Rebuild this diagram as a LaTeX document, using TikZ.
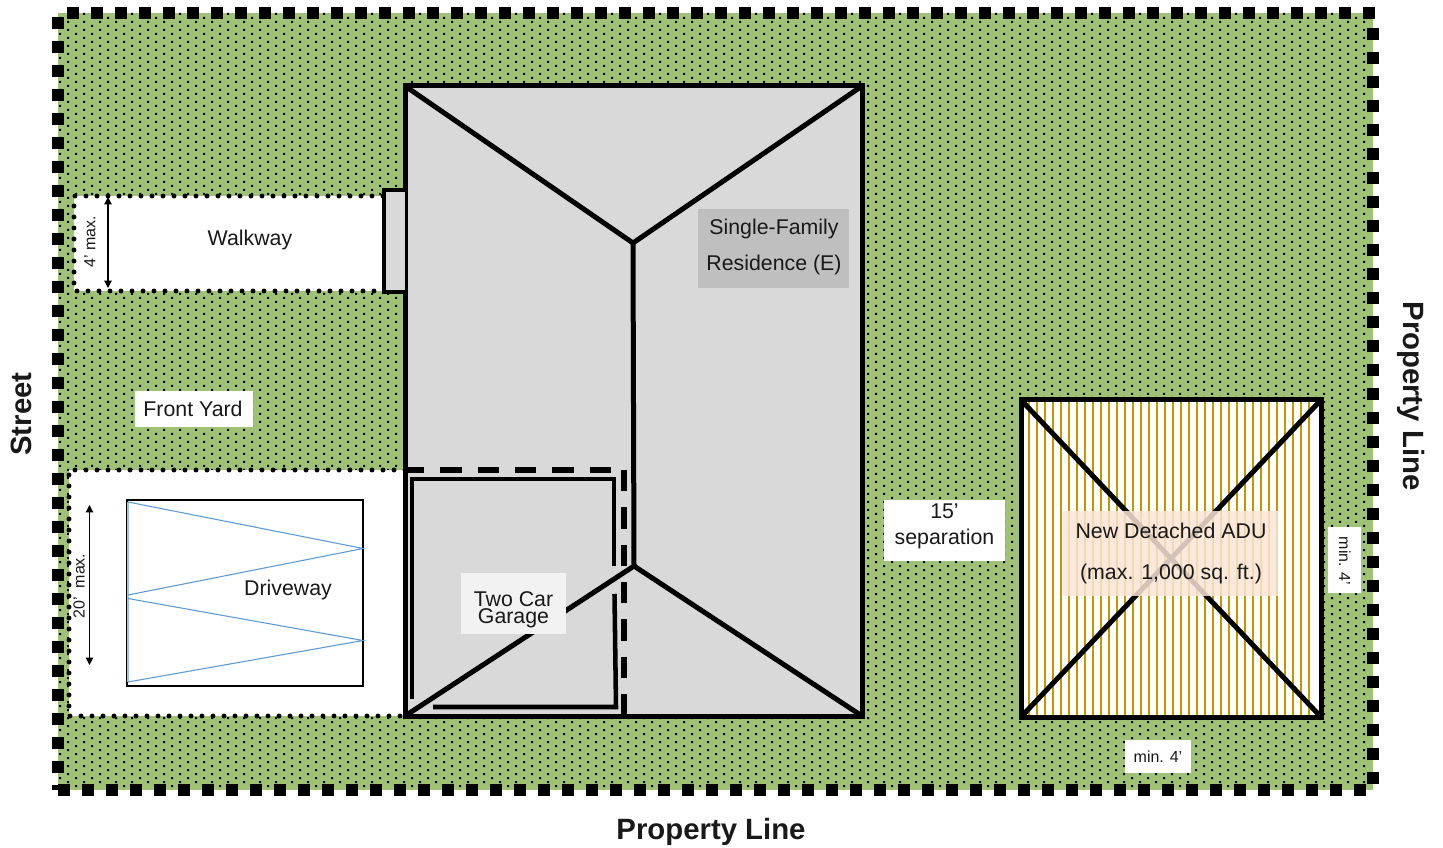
\documentclass[tikz,border=0pt]{standalone}
\usepackage{fontspec}
\setmainfont{Liberation Sans}
\usetikzlibrary{arrows.meta}
\definecolor{lawn}{HTML}{A0C274}
\definecolor{roof}{HTML}{D9D9D9}
\definecolor{sfrbox}{HTML}{BFBFBF}
\definecolor{garbox}{HTML}{F2F2F2}
\definecolor{adubox}{HTML}{FBE5D6}
\definecolor{stripe}{HTML}{C49600}
\definecolor{zig}{HTML}{5B9BD5}
\definecolor{zigl}{HTML}{9DC3E6}
\tikzset{
  roofline/.style={draw=black,line width=3.75pt,line join=miter},
  garline/.style={draw=black,line width=3.4pt,line join=miter},
  gardash/.style={draw=black,line width=3.9pt,dash pattern=on 16pt off 12pt},
  dotbound/.style={draw=black,fill=white,line width=3.7pt,line cap=round,dash pattern=on 0pt off 8.25pt},
  dimline/.style={draw=black,line width=0.9pt,{Triangle[length=5.5pt,width=5.5pt]}-{Triangle[length=5.5pt,width=5.5pt]}},
  body/.style={font=\fontsize{16}{19}\selectfont,text=black!90,inner sep=0pt,align=center},
  small/.style={font=\fontsize{12}{14}\selectfont,text=black!90,inner sep=0pt,align=center},
  heading/.style={font=\fontsize{22}{26}\selectfont\bfseries,text=black!90,inner sep=0pt},
}
\begin{document}
\begin{tikzpicture}[x=0.75pt,y=-0.75pt]
\useasboundingbox (0,0) rectangle (1443,848);
% lawn
\fill[lawn] (58,13) rectangle (1373,790);
% dot texture
\foreach \r in {0,...,193}{
  \pgfmathtruncatemacro{\yy}{14+4*\r}
  \pgfmathtruncatemacro{\xo}{isodd(\r)?60:68}
  \fill[black] \foreach \c in {0,...,81}{
    ({\xo+16*\c-1},\yy-1) rectangle ++(2,2)
  };
}
% property line squares
\foreach \c in {0,...,54}{
  \fill[black] ({67+24*\c},7) rectangle ++(12,12);
  \fill[black] ({58+24*\c},784) rectangle ++(12,12);
}
\foreach \c in {0,...,31}{
  \fill[black] (52,{17+24*\c}) rectangle ++(12,12);
}
\fill[black] (52,785) rectangle (58,790);
\foreach \c in {0,...,31}{
  \fill[black] (1367,{28+24*\c}) rectangle ++(12,12);
}
% walkway and driveway areas
\path[dotbound] (383,196) -- (74,196) -- (74,291) -- (383,291);
\path[dotbound] (405,470) -- (69,470) -- (69,716) -- (405,716);
% house
\path[roofline,fill=roof] (405,86) rectangle (862,716);
\path[garline,fill=roof,line width=3.2pt] (405,190) -- (384,190) -- (384,292) -- (405,292);
\coordinate (hTL) at (405,86);
\coordinate (hTR) at (862,86);
\coordinate (hBL) at (405,716);
\coordinate (hBR) at (862,716);
\coordinate (rU) at (633,243);
\coordinate (rL) at (634,566);
\draw[roofline] (hTL) -- (rU) -- (hTR);
\draw[roofline] (rU) -- (rL);
\draw[roofline] (hBL) -- (rL) -- (hBR);
% garage
\draw[gardash] (403,470) -- (613,470);
\draw[gardash] (624,470) -- (624,716);
\draw[garline] (412,699) -- (412,479) -- (614,479) -- (614,566);
\draw[garline] (614.5,594) -- (616,707) -- (433,707);
% driveway slab
\draw[black,line width=1.9pt,fill=white] (127,500) rectangle (363,686);
\draw[zigl,line width=1.5pt] (128,502) -- (128,682);
\draw[zig,line width=0.8pt] (128,502) -- (363,548.5) -- (128,595);
\draw[zig,line width=0.8pt] (128,598.5) -- (363,640.5) -- (128,682);
% ADU
\fill[white] (1021,400) rectangle (1321,717);
\foreach \c in {0,...,35}{
  \fill[stripe] ({1028+8*\c},402) rectangle ++(2,313);
}
\draw[roofline] (1021,400) rectangle (1321,717);
\coordinate (aTL) at (1021,400);
\coordinate (aTR) at (1321,400);
\coordinate (aBL) at (1021,717);
\coordinate (aBR) at (1321,717);
\draw[roofline] (aTL) -- (aBR);
\draw[roofline] (aTR) -- (aBL);
% label backgrounds
\fill[white] (135,391) rectangle (253,427);
\fill[sfrbox] (698,209) rectangle (849,288);
\fill[garbox] (461,573) rectangle (566,634);
\fill[white] (884,500) rectangle (1005,561);
\fill[adubox,opacity=0.85] (1063,511) rectangle (1278,596);
\fill[white] (1328,527) rectangle (1361,593);
\fill[white] (1125,740) rectangle (1191,773);
% dimension arrows
\coordinate (wT) at (108,197);
\coordinate (wB) at (108,288);
\draw[dimline] (wT) -- (wB);
\coordinate (dT) at (89.5,505);
\coordinate (dB) at (89.5,665);
\draw[dimline] (dT) -- (dB);
% labels
\node[body] (walk) at (250,240) {Walkway};
\node[body] (yard) at (193,409) {Front Yard};
\node[body] (drive) at (288,590) {Driveway};
\node[body,font=\fontsize{16}{26.3}\selectfont] (sfr) at (774,247) {Single-Family\\Residence (E)};
\node[body,font=\fontsize{16}{12.75}\selectfont] (gar) at (513.5,610) {Two Car\\Garage};
\node[body,font=\fontsize{16}{19.5}\selectfont] (sep) at (944.5,526.5) {15’\\separation};
\node[body,font=\fontsize{16}{30.75}\selectfont] (adu) at (1171,553) {New Detached ADU\\(max. 1,000 sq. ft.)};
\node[small] (m1) at (1158,757) {min. 4’};
\node[small,rotate=-90] (m2) at (1345,561) {min. 4’};
\node[small,rotate=90] (m3) at (90,242) {4’ max.};
\node[small,rotate=90] (m4) at (79,586) {20’ \ max.};
\node[heading] (pl1) at (711,832) {Property Line};
\node[heading,rotate=-90] (pl2) at (1411,396) {Property Line};
\node[heading,rotate=90] (st) at (21,414) {Street};
\end{tikzpicture}
\end{document}
